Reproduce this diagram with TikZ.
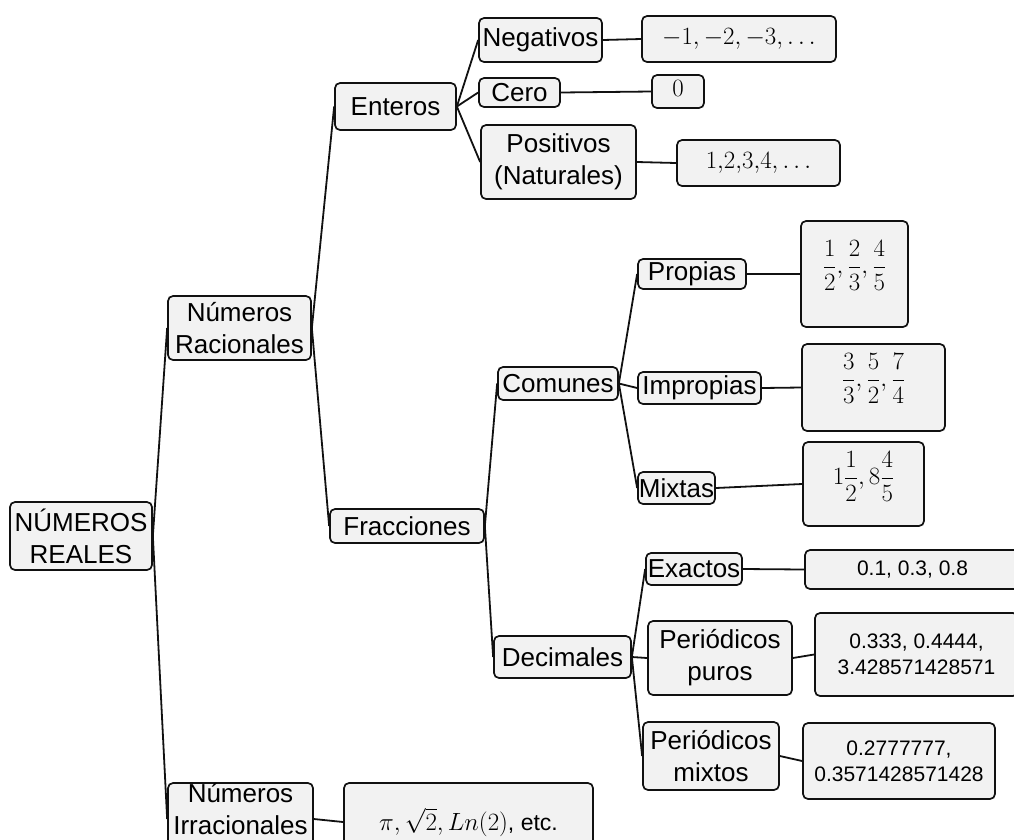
\documentclass[tikz,border=0pt]{standalone}
\usepackage{fontspec}
\setmainfont{Liberation Sans}
\usepackage{amsmath}
\definecolor{boxfill}{HTML}{F2F2F2}
\definecolor{boxline}{HTML}{111111}
\tikzset{
  cat/.style={draw=boxline, fill=boxfill, line width=1.7pt, rounded corners=5pt,
              inner sep=0pt, align=center, font=\fontsize{26}{32}\selectfont},
  val/.style={cat, font=\fontsize{21}{26}\selectfont},
  mval/.style={cat, font=\fontsize{23}{28}\selectfont},
  dims/.style 2 args={minimum width=#1pt, minimum height=#2pt},
  lift/.style={text depth=#1pt},
  link/.style={draw=boxline, line width=1.8pt}
}

\begin{document}
\begin{tikzpicture}[x=1pt, y=-1pt]
  \useasboundingbox (0,0) rectangle (1014,839);
  \clip (0,0) rectangle (1014,839);

  \node[cat, dims={142}{68}] (reales) at (81,536) {NÚMEROS\\REALES};
  \node[cat, dims={143}{64}] (racionales) at (239.5,328) {Números\\Racionales};
  \node[cat, dims={145}{72}, lift=20] (irracionales) at (240.5,819) {Números\\Irracionales};

  \node[cat, dims={121}{47}] (enteros) at (395.5,106.5) {Enteros};
  \node[cat, dims={154}{34}] (fracciones) at (407,526) {Fracciones};

  \node[cat, dims={123}{44}] (negativos) at (540.5,40) {Negativos};
  \node[cat, dims={81}{29}] (cero) at (519.5,92.5) {Cero};
  \node[cat, dims={155}{74}] (positivos) at (558.5,162) {Positivos\\(Naturales)};

  \node[cat, dims={120}{33}] (comunes) at (558,383.5) {Comunes};
  \node[cat, dims={137}{42}] (decimales) at (562.5,657) {Decimales};

  \node[cat, dims={108}{30}] (propias) at (692,274) {Propias};
  \node[cat, dims={123}{32}] (impropias) at (699.5,388) {Impropias};
  \node[cat, dims={77}{32}] (mixtas) at (676.5,488) {Mixtas};

  \node[cat, dims={96}{32}] (exactos) at (694,569) {Exactos};
  \node[cat, dims={144}{74}] (puros) at (720,658) {Periódicos\\puros};
  \node[cat, dims={136}{68}] (pmixtos) at (711,756) {Periódicos\\mixtos};

  \node[mval, dims={194}{46}] (vnegativos) at (739,39) {$-1,-2,-3,\ldots$};
  \node[mval, dims={52}{33}, lift=7] (vcero) at (678,91.5) {$0$};
  \node[mval, dims={163}{46}] (vpositivos) at (758.5,163) {$1{,}2{,}3{,}4,\ldots$};
  \node[mval, dims={107}{106}, lift=34] (vpropias) at (854.5,274)
    {$\dfrac{1}{2},\dfrac{2}{3},\dfrac{4}{5}$};
  \node[mval, dims={143}{87}, lift=35] (vimpropias) at (873.5,387.5)
    {$\dfrac{3}{3},\dfrac{5}{2},\dfrac{7}{4}$};
  \node[mval, dims={121}{84}, lift=32] (vmixtas) at (863.5,484)
    {$1\dfrac{1}{2},8\dfrac{4}{5}$};
  \node[val, dims={215}{39}] (vexactos) at (912.5,569.5) {0.1, 0.3, 0.8};
  \node[val, dims={203}{83}] (vpuros) at (916.5,654.5) {0.333, 0.4444,\\3.428571428571};
  \node[val, dims={192}{76}] (vpmixtos) at (899,761) {0.2777777,\\0.3571428571428};
  \node[mval, dims={249}{78}] (virracionales) at (468.5,822) {$\pi,\sqrt{2},Ln(2)$, etc.};

  \foreach \a/\b in {reales/racionales, reales/irracionales,
      racionales/enteros, racionales/fracciones,
      enteros/negativos, enteros/cero, enteros/positivos,
      fracciones/comunes, fracciones/decimales,
      comunes/propias, comunes/impropias, comunes/mixtas,
      decimales/exactos, decimales/puros, decimales/pmixtos,
      negativos/vnegativos, cero/vcero, positivos/vpositivos,
      propias/vpropias, impropias/vimpropias, mixtas/vmixtas,
      exactos/vexactos, puros/vpuros, pmixtos/vpmixtos,
      irracionales/virracionales}
    \draw[link] (\a.east) -- (\b.west);
\end{tikzpicture}
\end{document}
